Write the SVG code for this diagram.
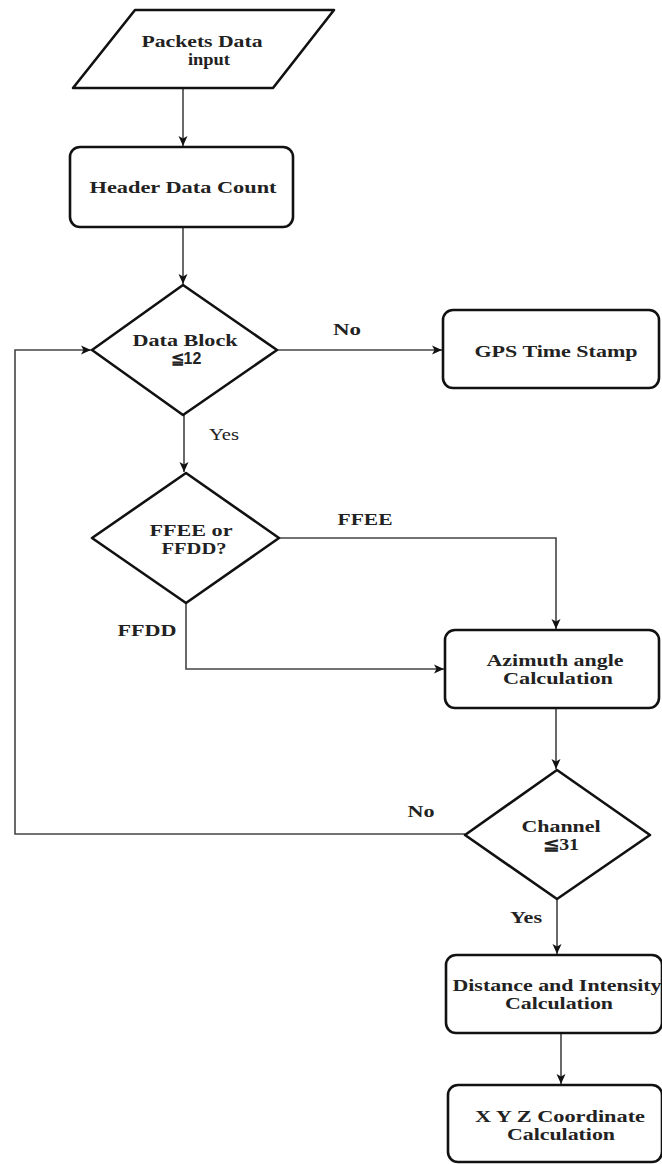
<svg xmlns="http://www.w3.org/2000/svg" width="662" height="1164" viewBox="0 0 662 1164">
<defs>
<marker id="arr" markerUnits="userSpaceOnUse" markerWidth="11" markerHeight="11" refX="10" refY="5" orient="auto">
<path d="M0,0.5 L10,5 L0,9.5 L2.5,5 z" fill="#111"/>
</marker>
</defs>
<style>
.shape{fill:#fff;stroke:#111;stroke-width:2.6;stroke-linejoin:round}
.conn{fill:none;stroke:#444;stroke-width:1.6}
.t{font-family:"Liberation Serif","Times New Roman",serif;font-weight:bold;font-size:16px;fill:#222;text-anchor:middle}
.r{font-weight:normal}
.s{font-family:"Liberation Sans",Arial,sans-serif}
</style>
<rect width="662" height="1164" fill="#fff"/>
<g id="connectors">
<path class="conn" d="M183,88 V146" marker-end="url(#arr)"/>
<path class="conn" d="M183,227 V284" marker-end="url(#arr)"/>
<path class="conn" d="M277,350 H442" marker-end="url(#arr)"/>
<path class="conn" d="M184,415 V472" marker-end="url(#arr)"/>
<path class="conn" d="M279,538 H556 V629" marker-end="url(#arr)"/>
<path class="conn" d="M186,603 V669 H444" marker-end="url(#arr)"/>
<path class="conn" d="M556,708 V769" marker-end="url(#arr)"/>
<path class="conn" d="M465,834 H15 V350 H91" marker-end="url(#arr)"/>
<path class="conn" d="M557,899 V954" marker-end="url(#arr)"/>
<path class="conn" d="M561,1033 V1084" marker-end="url(#arr)"/>
<text class="t" x="347" y="335" textLength="28" lengthAdjust="spacingAndGlyphs">No</text>
<text class="t r" x="224" y="440" textLength="30" lengthAdjust="spacingAndGlyphs">Yes</text>
<text class="t" x="365" y="525" textLength="55" lengthAdjust="spacingAndGlyphs">FFEE</text>
<text class="t" x="147" y="636" textLength="59" lengthAdjust="spacingAndGlyphs">FFDD</text>
<text class="t" x="421" y="817" textLength="27" lengthAdjust="spacingAndGlyphs">No</text>
<text class="t" x="526" y="923" textLength="32" lengthAdjust="spacingAndGlyphs">Yes</text>
</g>
<g id="packets-input">
<path class="shape" d="M135,10 L334,10 L273,88 L73,88 Z"/>
<text class="t" x="202" y="47" textLength="121" lengthAdjust="spacingAndGlyphs">Packets Data</text>
<text class="t" x="209" y="65" textLength="42" lengthAdjust="spacingAndGlyphs">input</text>
</g>
<g id="header-count">
<rect class="shape" x="70" y="147" width="223" height="80" rx="10"/>
<text class="t" x="183" y="193" textLength="187" lengthAdjust="spacingAndGlyphs">Header Data Count</text>
</g>
<g id="data-block">
<path class="shape" d="M183,285 L277,350 L183,415 L92,350 Z"/>
<text class="t" x="185" y="346" textLength="105" lengthAdjust="spacingAndGlyphs">Data Block</text>
<text class="t" x="186" y="364"><tspan class="s">≦12</tspan></text>
</g>
<g id="gps">
<rect class="shape" x="443" y="310" width="216" height="78" rx="10"/>
<text class="t" x="556" y="357" textLength="163" lengthAdjust="spacingAndGlyphs">GPS Time Stamp</text>
</g>
<g id="ffee-ffdd">
<path class="shape" d="M186,473 L279,538 L186,603 L92,538 Z"/>
<text class="t" x="191" y="536" textLength="83" lengthAdjust="spacingAndGlyphs">FFEE or</text>
<text class="t" x="194" y="554" textLength="65" lengthAdjust="spacingAndGlyphs">FFDD?</text>
</g>
<g id="azimuth">
<rect class="shape" x="445" y="630" width="214" height="78" rx="10"/>
<text class="t" x="555" y="666" textLength="137" lengthAdjust="spacingAndGlyphs">Azimuth angle</text>
<text class="t" x="558" y="684" textLength="110" lengthAdjust="spacingAndGlyphs">Calculation</text>
</g>
<g id="channel">
<path class="shape" d="M557,770 L650,835 L557,899 L465,835 Z"/>
<text class="t" x="561" y="832" textLength="79" lengthAdjust="spacingAndGlyphs">Channel</text>
<text class="t" x="561" y="850" textLength="36" lengthAdjust="spacingAndGlyphs">≦31</text>
</g>
<g id="distance">
<rect class="shape" x="446" y="955" width="216" height="78" rx="10"/>
<text class="t" x="557" y="991" textLength="209" lengthAdjust="spacingAndGlyphs">Distance and Intensity</text>
<text class="t" x="559" y="1009" textLength="108" lengthAdjust="spacingAndGlyphs">Calculation</text>
</g>
<g id="xyz">
<rect class="shape" x="448" y="1085" width="214" height="77" rx="10"/>
<text class="t" x="560" y="1122" textLength="170" lengthAdjust="spacingAndGlyphs">X Y Z Coordinate</text>
<text class="t" x="561" y="1140" textLength="108" lengthAdjust="spacingAndGlyphs">Calculation</text>
</g>
</svg>
